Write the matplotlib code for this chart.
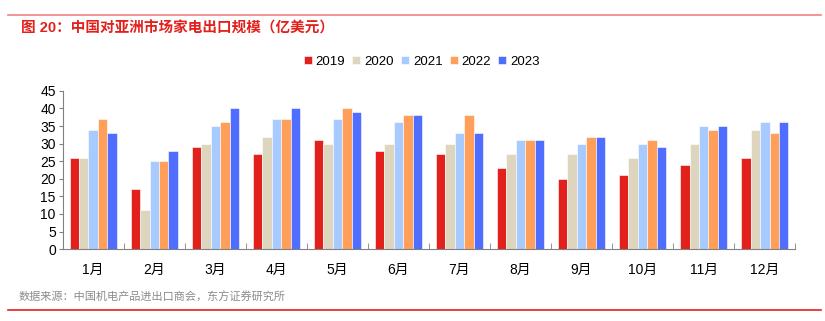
import numpy as np
import matplotlib.pyplot as plt
from matplotlib.lines import Line2D

plt.rcParams['font.family'] = ['Liberation Sans', 'Noto Sans CJK SC', 'DejaVu Sans']

months = ["1月", "2月", "3月", "4月", "5月", "6月", "7月", "8月", "9月", "10月", "11月", "12月"]
years = ["2019", "2020", "2021", "2022", "2023"]
v2019 = [26, 17, 29, 27, 31, 28, 27, 23, 20, 21, 24, 26]
v2020 = [26, 11, 30, 32, 30, 30, 30, 27, 27, 26, 30, 34]
v2021 = [34, 25, 35, 37, 37, 36, 33, 31, 30, 30, 35, 36]
v2022 = [37, 25, 36, 37, 40, 38, 38, 31, 32, 31, 34, 33]
v2023 = [33, 28, 40, 40, 39, 38, 33, 31, 32, 29, 35, 36]
colors = ["#E2201C", "#DED5BE", "#A8CBFF", "#FF9F5A", "#4F6DFF"]

fig = plt.figure(figsize=(8.25, 3.21), dpi=100)
ax = fig.add_axes([0.076, 0.224, 0.888, 0.493])

x = np.arange(len(months))
w = 0.155
for i, (vals, c, lab) in enumerate(zip([v2019, v2020, v2021, v2022, v2023], colors, years)):
    ax.bar(x + (i - 2) * w, vals, w, color=c, label=lab, edgecolor="white", linewidth=0.4)

ax.set_xlim(-0.5, len(months) - 0.5)
ax.set_ylim(0, 45)
ax.set_yticks(range(0, 46, 5))
ax.set_xticks(x)
ax.set_xticklabels(months)
ax.set_xticks(np.arange(-0.5, len(months), 1), minor=True)
ax.tick_params(axis="x", which="major", length=0, pad=10, labelsize=10)
ax.tick_params(axis="x", which="minor", length=4, direction="in", color="#808080")
ax.tick_params(axis="y", length=3, color="#808080", labelsize=10, pad=2)
for s in ["top", "right"]:
    ax.spines[s].set_visible(False)
for s in ["left", "bottom"]:
    ax.spines[s].set_color("#808080")
    ax.spines[s].set_linewidth(0.8)

ax.legend(loc="lower center", bbox_to_anchor=(0.49, 1.07), ncol=5, frameon=False,
          handlelength=0.6, handleheight=0.6, handletextpad=0.3, columnspacing=0.55, fontsize=9.5)

fig.add_artist(Line2D([0.01, 0.995], [0.953, 0.953], color="#F08080", lw=1.2))
fig.text(0.025, 0.912, "图 20：中国对亚洲市场家电出口规模（亿美元）", color="#E2201C",
         fontsize=10.5, fontweight="bold", va="center")
fig.text(0.022, 0.075, "数据来源：中国机电产品进出口商会，东方证券研究所", color="#8C8C8C",
         fontsize=8, va="center")
fig.add_artist(Line2D([0.01, 0.995], [0.035, 0.035], color="#E2201C", lw=1.2))

fig.savefig("out.png", dpi=100)
